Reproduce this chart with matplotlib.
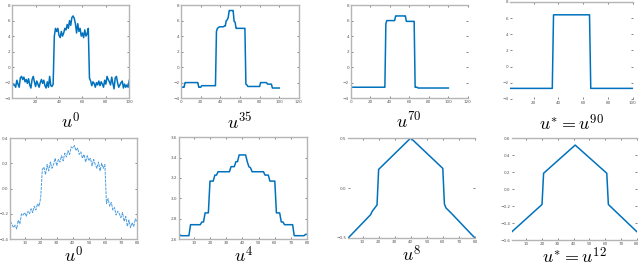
import numpy as np
import matplotlib
matplotlib.use("Agg")
import matplotlib.pyplot as plt

plt.rcParams['mathtext.fontset'] = 'cm'
plt.rcParams['font.family'] = ['DejaVu Sans']

BLUE = '#0072BD'
GREY = '#b5b5b5'

# ---- top row : 1D signal, 100 samples ----
top_x = np.arange(1, 101)
u0_top = [-2.3, -2.3, -2.6, -1.7, -2.2, -2.6, -1.4, -1.2, -1.6, -1.3,
          -1.9, -1.6, -2.1, -1.5, -2.3, -2.7, -1.6, -1.2, -1.9, -2.5,
          -1.8, -2.2, -2.6, -2.0, -1.6, -2.1, -1.7, -2.4, -2.7, -1.9,
          -2.6, -1.2, -2.4, -2.5, -2.2, 4.0, 5.0, 4.6, 5.0, 4.1,
          3.8, 4.6, 4.0, 4.4, 5.0, 4.8, 5.5, 5.0, 6.0, 5.4,
          6.4, 6.6, 6.3, 5.6, 4.4, 5.6, 4.6, 5.0, 4.0, 4.4,
          3.8, 4.8, 4.0, 4.3, 5.0, -1.4, -1.8, -2.4, -1.9, -2.1,
          -2.6, -2.0, -2.3, -1.8, -2.4, -1.9, -2.2, -2.6, -1.7, -2.2,
          -1.2, -1.6, -1.9, -2.3, -1.3, -2.1, -2.8, -1.4, -1.2, -2.0,
          -2.6, -2.3, -2.0, -1.8, -2.7, -2.2, -2.6, -2.3, -2.6, -1.7]

u35_top = ([-2.6] * 3 + [-2.0] * 14 + [-2.6] * 3 + [-2.4] * 15 +
           [4.6, 5.0, 5.1, 5.2, 5.2, 5.2, 5.2, 5.2, 5.3, 5.3,
            6.0, 6.1, 6.4, 7.3, 7.3, 7.3, 7.3, 7.3, 5.9, 5.8,
            5.0, 5.0, 5.0, 5.0, 5.0, 5.0, 5.0, 5.0, 5.0, 5.0] +
           [-2.2, -2.3] + [-2.5] * 13 + [-2.0] * 7 + [-2.2] * 5 + [-2.7] * 8)

u70_top = ([-2.6] * 35 + [5.6] + [6.0] * 9 + [6.6] * 11 + [5.9] * 9 +
           [-2.6] * 3 + [-2.7] * 32)

u90_top = [-2.7] * 35 + [6.4] * 30 + [-2.7] * 35

# ---- bottom row : 80 samples ----
bot_x = np.arange(1, 81)
u0_bot = [-0.26, -0.28, -0.31, -0.29, -0.32, -0.25, -0.28, -0.20, -0.21, -0.19,
          -0.22, -0.18, -0.20, -0.16, -0.19, -0.14, -0.17, -0.12, -0.14, -0.07,
          0.15, 0.17, 0.11, 0.19, 0.14, 0.21, 0.16, 0.19, 0.24, 0.18,
          0.23, 0.21, 0.26, 0.22, 0.28, 0.25, 0.30, 0.27, 0.33, 0.32,
          0.34, 0.30, 0.32, 0.27, 0.29, 0.24, 0.27, 0.21, 0.26, 0.22,
          0.24, 0.18, 0.23, 0.19, 0.16, 0.21, 0.14, 0.20, 0.16, 0.19,
          -0.12, -0.08, -0.14, -0.11, -0.17, -0.15, -0.21, -0.18, -0.20, -0.23,
          -0.19, -0.26, -0.22, -0.30, -0.25, -0.31, -0.27, -0.30, -0.24, -0.26]

u4_bot = ([2.646] + [2.633] * 6 + [2.741] * 7 + [2.768] * 2 + [2.857] * 3 +
          [3.169] * 3 + [3.228] * 2 + [3.261] * 8 + [3.311] * 3 + [3.36] * 2 +
          [3.426] * 5 + [3.36, 3.311, 3.30] + [3.261] * 8 + [3.228] * 3 +
          [3.169] * 4 + [2.857] * 3 + [2.768] * 2 + [2.741] * 6 +
          [2.633] * 7 + [2.646] * 2)

u8_x = [1, 15, 16, 19, 20, 40, 60, 61, 62, 65, 80]
u8_y = [-0.5, -0.267, -0.233, -0.17, 0.186, 0.5, 0.196, -0.16, -0.20, -0.247, -0.5]

u12_x = [1, 20, 21, 41, 61, 62, 80]
u12_y = [-0.5, -0.18, 0.188, 0.52, 0.188, -0.18, -0.5]

top_titles = [r'$u^0$', r'$u^{35}$', r'$u^{70}$', r'$u^{*} = u^{90}$']
bot_titles = [r'$u^0$', r'$u^4$', r'$u^8$', r'$u^{*} = u^{12}$']

fig = plt.figure(figsize=(6.4, 2.68), dpi=100)

boxes = [
    [0.019, 0.634, 0.183, 0.347],
    [0.283, 0.634, 0.184, 0.347],
    [0.548, 0.634, 0.183, 0.347],
    [0.797, 0.631, 0.192, 0.362],
    [0.016, 0.108, 0.198, 0.377],
    [0.280, 0.108, 0.200, 0.380],
    [0.544, 0.112, 0.198, 0.373],
    [0.800, 0.104, 0.195, 0.380],
]
axes = [fig.add_axes(b) for b in boxes]

for ax in axes:
    for s in ax.spines.values():
        s.set_color(GREY)
        s.set_linewidth(1.0)
    ax.tick_params(direction='in', length=1.5, width=0.5, labelsize=3.0,
                   colors='#555555', pad=1.2, top=True, right=True)

# top row
axes[0].plot(top_x, u0_top, color=BLUE, lw=1.1)
axes[0].set_xlim(0, 100)
axes[0].set_xticks([20, 40, 60, 80, 100])

axes[1].plot(top_x, u35_top, color=BLUE, lw=1.1)
axes[1].set_xlim(0, 120)
axes[1].set_xticks(range(0, 121, 20))

axes[2].plot(top_x, u70_top, color=BLUE, lw=1.1)
axes[2].set_xlim(0, 120)
axes[2].set_xticks(range(0, 121, 20))
axes[2].spines['right'].set_visible(False)

axes[3].plot(top_x, u90_top, color=BLUE, lw=1.1)
axes[3].set_xlim(1, 100)
axes[3].set_xticks([20, 40, 60, 80, 100])
for s in ['left', 'bottom', 'right']:
    axes[3].spines[s].set_visible(False)

for ax in axes[:4]:
    ax.set_ylim(-4, 8)
    ax.set_yticks(range(-4, 9, 2))

# bottom row
axes[4].plot(bot_x, u0_bot, color='#4d9ee0', lw=0.7, ls=(0, (3, 1)))
axes[4].set_ylim(-0.4, 0.4)
axes[4].set_yticks([-0.4, -0.2, 0, 0.2, 0.4])

axes[5].plot(bot_x, u4_bot, color=BLUE, lw=1.1)
axes[5].set_ylim(2.6, 3.6)
axes[5].set_yticks([2.6, 2.8, 3, 3.2, 3.4, 3.6])

axes[6].plot(u8_x, u8_y, color=BLUE, lw=1.1)
axes[6].set_ylim(-0.5, 0.5)
axes[6].set_yticks([-0.5, 0, 0.5])

axes[7].plot(u12_x, u12_y, color=BLUE, lw=1.1)
axes[7].set_ylim(-0.6, 0.6)
axes[7].set_yticks([-0.6, -0.4, -0.2, 0, 0.2, 0.4, 0.6])

for ax in axes[6:]:
    ax.spines['left'].set_visible(False)
    ax.spines['right'].set_visible(False)

for ax in axes[4:]:
    ax.set_xlim(1, 80)
    ax.set_xticks(range(10, 81, 10))

for ax, t in zip(axes[:4], top_titles):
    ax.text(0.5, -0.26, t, transform=ax.transAxes, ha='center', va='center',
            fontsize=13)
for ax, t in zip(axes[4:], bot_titles):
    ax.text(0.5, -0.17, t, transform=ax.transAxes, ha='center', va='center',
            fontsize=13)

fig.savefig('out.png', dpi=100)
